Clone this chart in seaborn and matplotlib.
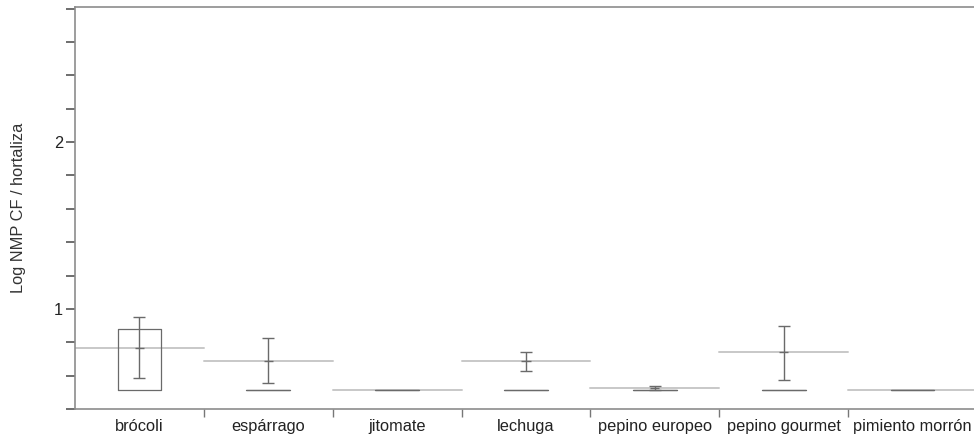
import numpy as np
import pandas as pd
import matplotlib
matplotlib.use("Agg")
import matplotlib.pyplot as plt
from matplotlib.ticker import MultipleLocator, FixedLocator
import seaborn as sns

categories = ["brócoli", "espárrago", "jitomate", "lechuga",
              "pepino europeo", "pepino gourmet", "pimiento morrón"]
means = [0.768, 0.689, 0.515, 0.689, 0.523, 0.743, 0.515]
err_low = [0.583, 0.553, np.nan, 0.630, 0.512, 0.575, np.nan]
err_high = [0.954, 0.824, np.nan, 0.741, 0.537, 0.898, np.nan]
box_q1 = [0.515, 0.515, 0.515, 0.515, 0.515, 0.515, 0.515]
box_med = [0.515, 0.515, 0.515, 0.515, 0.515, 0.515, 0.515]
box_q3 = [0.880, 0.515, 0.515, 0.515, 0.515, 0.515, 0.515]
y_ticks = [1, 2]
y_label = "Log NMP CF / hortaliza"

sns.set_theme(style="white")
plt.rcParams["font.family"] = ["Liberation Sans", "DejaVu Sans"]

df = pd.DataFrame({"cat": categories, "mean": means, "lo": err_low,
                   "hi": err_high, "q1": box_q1, "med": box_med, "q3": box_q3})
df["pos"] = np.arange(len(df))

fig = plt.figure(figsize=(9.74, 4.47), dpi=100)
ax = fig.add_axes([75 / 974, 38 / 447, 902 / 974, 402 / 447])

spine_col = "#8c8c8c"
dark = "#6a6a6a"
light = "#c8c8c8"

# mean lines across each category's full width (seaborn lineplot with units)
seg = pd.DataFrame({
    "x": np.concatenate([df["pos"] - 0.5, df["pos"] + 0.5]),
    "y": np.concatenate([df["mean"], df["mean"]]),
    "cat": np.concatenate([df["cat"], df["cat"]]),
})
sns.lineplot(data=seg, x="x", y="y", units="cat", estimator=None,
             color=light, linewidth=1.4, ax=ax, sort=True, zorder=1)

# boxes
stats = []
for _, r in df.iterrows():
    stats.append({"q1": r.q1, "med": r.med, "q3": r.q3,
                  "whislo": r.q1, "whishi": r.q3, "fliers": []})
ax.bxp(stats, positions=df["pos"], widths=0.34, showcaps=False,
       patch_artist=False, manage_ticks=False,
       boxprops=dict(color=dark, linewidth=0.9),
       medianprops=dict(color=dark, linewidth=0),
       whiskerprops=dict(color=dark, linewidth=0.9), zorder=2)

# error bars
ok = df.dropna(subset=["lo", "hi"])
ax.errorbar(ok["pos"], ok["mean"],
            yerr=[ok["mean"] - ok["lo"], ok["hi"] - ok["mean"]],
            fmt="none", ecolor=dark, elinewidth=1.0, capsize=4.5,
            capthick=1.0, zorder=3)
# small mean tick on error bars
ax.errorbar(ok["pos"], ok["mean"], xerr=0.035, fmt="none", ecolor=dark,
            elinewidth=1.0, capsize=0, zorder=3)

ax.set_xlim(-0.5, len(categories) - 0.5)
ax.set_ylim(0.40, 2.81)

ax.yaxis.set_major_locator(FixedLocator(y_ticks))
ax.yaxis.set_minor_locator(MultipleLocator(0.2))
ax.set_yticklabels([str(t) for t in y_ticks])
ax.set_xticks(df["pos"])
ax.set_xticklabels(categories)
ax.xaxis.set_minor_locator(FixedLocator(np.arange(len(categories) - 1) + 0.5))

ax.tick_params(axis="y", which="both", direction="out", length=6.5,
               width=1.2, color="#555555", left=True, labelsize=11.8,
               pad=2, labelcolor="#222222")
ax.tick_params(axis="x", which="major", length=0, labelsize=11.8, pad=7,
               labelcolor="#222222")
ax.tick_params(axis="x", which="minor", direction="out", length=6,
               width=1.0, color="#777777", bottom=True)

for s in ["left", "bottom", "top"]:
    ax.spines[s].set_color(spine_col)
    ax.spines[s].set_linewidth(1.2)
ax.spines["right"].set_visible(False)

ax.set_xlabel("")
ax.set_ylabel(y_label, fontsize=11.8, color="#333333", labelpad=20)
ax.grid(False)

fig.savefig("out.png", dpi=100)
